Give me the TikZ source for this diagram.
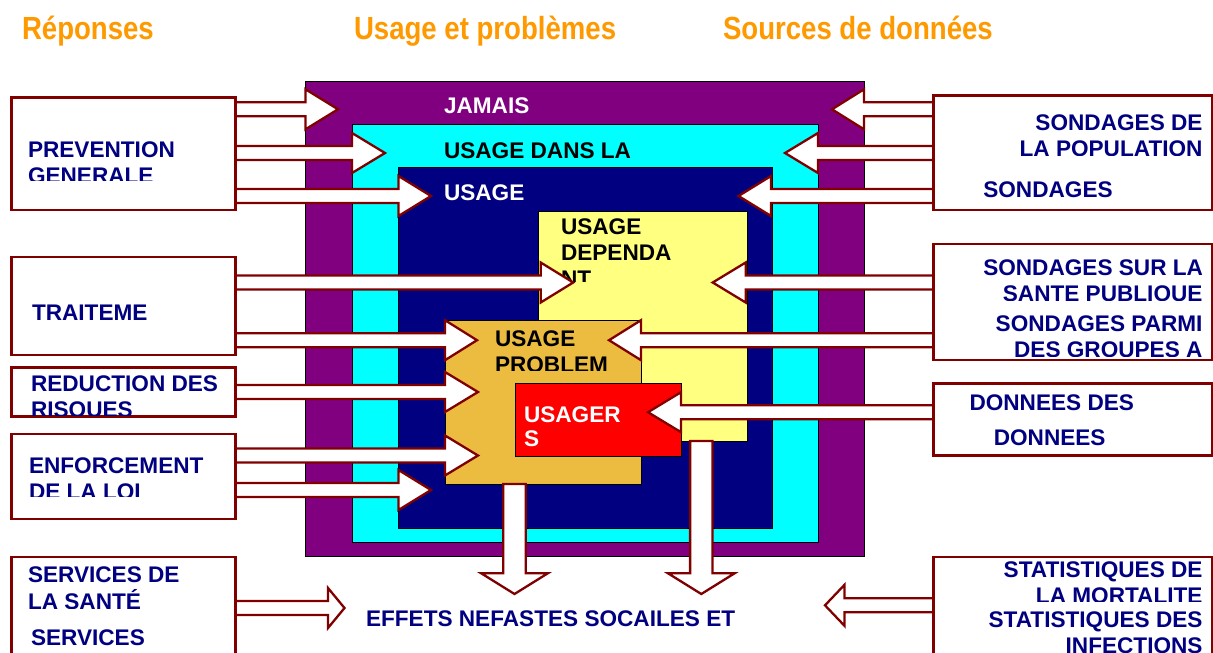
\documentclass[tikz,border=0pt]{standalone}
\usepackage{fontspec}
\setmainfont{Liberation Sans}
\newfontfamily\titlefont[FakeStretch=0.862]{Liberation Sans}
\usetikzlibrary{calc}
\definecolor{mred}{HTML}{800000}
\definecolor{mblue}{HTML}{000080}
\definecolor{mpurple}{HTML}{800080}
\definecolor{mcyan}{HTML}{00FFFF}
\definecolor{myellow}{HTML}{FFFF80}
\definecolor{morange}{HTML}{ECBC40}
\definecolor{mred2}{HTML}{FF0000}
\definecolor{mtitle}{HTML}{FF9900}
\tikzset{
  lab/.style={inner sep=0pt,outer sep=0pt,font=\fontsize{22.6}{26}\selectfont\bfseries},
  ttl/.style={inner sep=0pt,outer sep=0pt,text=mtitle,anchor=base west,font=\titlefont\fontsize{32}{36}\selectfont\bfseries},
  layer/.style={draw=black,line width=0.9pt,inner sep=0pt,outer sep=0pt,anchor=north west},
  refbox/.style={draw=mred,line width=2.3pt,fill=white,inner sep=0pt,outer sep=0pt,anchor=north west},
  block/.style={draw=mred,line width=2.3pt,fill=white,line join=miter}
}
% box: style, name, x1, y1, x2, y2
\newcommand\pbox[6]{%
  \pgfmathsetmacro\bw{#5-#3}\pgfmathsetmacro\bh{#6-#4}%
  \node[#1,minimum width=\bw pt,minimum height=\bh pt] (#2) at (#3,#4) {};}
% text: style, name, x, baseline, text
\newcommand\tl[5]{\node[lab,anchor=base west,#1] (#2) at (#3,#4) {#5};}
\newcommand\tr[5]{\node[lab,anchor=base east,#1] (#2) at (#3,#4) {#5};}
% clipped text: extra clip-bottom arg first
\newcommand\ctl[6]{\begin{scope}\clip (0,0) rectangle (1213,#1);\tl{#2}{#3}{#4}{#5}{#6}\end{scope}}
\newcommand\ctr[6]{\begin{scope}\clip (0,0) rectangle (1213,#1);\tr{#2}{#3}{#4}{#5}{#6}\end{scope}}
% right-pointing block arrow: from, yc, target, offset, headlen, headhalf
\newcommand\rarrow[6]{%
  \coordinate (bk) at ($(#3.west)+(#4,0)$);
  \path[block] (#1.east |- 0,#2-7) -- (bk |- 0,#2-7) -- (bk |- 0,#2-#6) -- ($(bk |- 0,#2)+(#5,0)$)
     -- (bk |- 0,#2+#6) -- (bk |- 0,#2+7) -- (#1.east |- 0,#2+7);}
\newcommand\larrow[6]{%
  \coordinate (bk) at ($(#3.east)+(#4,0)$);
  \path[block] (#1.west |- 0,#2-7) -- (bk |- 0,#2-7) -- (bk |- 0,#2-#6) -- ($(bk |- 0,#2)-(#5,0)$)
     -- (bk |- 0,#2+#6) -- (bk |- 0,#2+7) -- (#1.west |- 0,#2+7);}
% down arrow: top y, xc, head y, tip y
\newcommand\darrow[4]{%
  \path[block] (#2-11.2,#1) -- (#2-11.2,#3) -- (#2-33.3,#3) -- (#2,#4) -- (#2+33.3,#3) -- (#2+11.2,#3) -- (#2+11.2,#1) -- cycle;}
\begin{document}
\begin{tikzpicture}[x=1pt,y=-1pt]
\useasboundingbox (0,0) rectangle (1213,653);
\clip (0,0) rectangle (1213,653);
\fill[white] (0,0) rectangle (1213,653);
% titles
\node[ttl] (t1) at (22,39.3) {Réponses};
\node[ttl] (t2) at (354,39.3) {Usage et problèmes};
\node[ttl] (t3) at (723,39.3) {Sources de données};
% nested layers
\pbox{layer,fill=mpurple}{purple}{305}{81}{864}{556}
\pbox{layer,fill=mcyan}{cyan}{352}{124}{818}{542}
\pbox{layer,fill=mblue}{navy}{398}{167}{772}{528}
\pbox{layer,fill=myellow}{yellow}{538}{211}{747}{441}
\tl{text=white}{jamais}{444}{113}{JAMAIS}
\tl{text=black}{dansla}{444}{158}{USAGE DANS LA}
\tl{text=white}{usage}{444}{200.5}{USAGE}
\tl{text=black}{dep1}{561}{234.7}{USAGE}
\tl{text=black}{dep2}{561}{260.7}{DEPENDA}
\ctl{281.7}{text=black}{dep3}{561}{286.7}{NT}
\pbox{layer,fill=morange}{orange}{445}{320}{641}{484}
\tl{text=black}{pb1}{495}{346.7}{USAGE}
\ctl{370.7}{text=black}{pb2}{495}{372.7}{PROBLEM}
\pbox{layer,fill=mred2}{redbox}{515}{383}{681}{456}
\tl{text=white}{us1}{524}{422.2}{USAGER}
\tl{text=white}{us2}{524}{446.5}{S}
% invisible anchors for the response/source boxes, so the arrows can be drawn beneath them
\pbox{refbox,draw=none,fill=none}{L1}{11.5}{97.5}{235.5}{210}
\pbox{refbox,draw=none,fill=none}{L2}{11.5}{257}{235.5}{355}
\pbox{refbox,draw=none,fill=none}{L3}{11.5}{367.5}{235.5}{416.5}
\pbox{refbox,draw=none,fill=none}{L4}{11.5}{434}{235.5}{519}
\pbox{refbox,draw=none,fill=none}{L5}{11.5}{557}{235.5}{680}
\pbox{refbox,draw=none,fill=none}{R1}{933.5}{95.5}{1212}{210}
\pbox{refbox,draw=none,fill=none}{R2}{933.5}{244}{1212}{360}
\pbox{refbox,draw=none,fill=none}{R3}{933.5}{383.5}{1212}{455.5}
\pbox{refbox,draw=none,fill=none}{R4}{933.5}{557}{1212}{680}
% left arrows
\rarrow{L1}{109.3}{purple}{0.5}{32.5}{20}
\rarrow{L1}{153}{cyan}{0}{33}{20}
\rarrow{L1}{196}{navy}{0.5}{32.5}{20}
\rarrow{L2}{282.5}{yellow}{2.7}{32.5}{20}
\rarrow{L2}{340.2}{orange}{0}{32}{20}
\rarrow{L3}{392}{orange}{0}{33}{20}
\rarrow{L4}{455.5}{orange}{0}{33}{20}
\rarrow{L4}{490}{navy}{0.5}{32.5}{20}
\rarrow{L5}{608}{purple}{23}{16.5}{20}
% right arrows
\larrow{R1}{109.3}{purple}{0}{32}{20}
\larrow{R1}{153}{cyan}{0}{33}{20}
\larrow{R1}{196}{navy}{-1}{32.5}{20}
\larrow{R2}{282.5}{yellow}{-1.3}{33}{20}
\larrow{R2}{340.2}{orange}{0}{32}{20}
\larrow{R3}{412.2}{redbox}{0}{33}{20}
\larrow{R4}{605.3}{purple}{-19.5}{19.5}{20.5}
% down arrows
\darrow{484}{514.5}{573.3}{594}
\darrow{441}{701.3}{573.3}{594}
% visible boxes on top of arrow tails
\draw[refbox] (L1.north west) rectangle (L1.south east);
\draw[refbox] (L2.north west) rectangle (L2.south east);
\draw[refbox] (L3.north west) rectangle (L3.south east);
\draw[refbox] (L4.north west) rectangle (L4.south east);
\draw[refbox] (L5.north west) rectangle (L5.south east);
\draw[refbox] (R1.north west) rectangle (R1.south east);
\draw[refbox] (R2.north west) rectangle (R2.south east);
\draw[refbox] (R3.north west) rectangle (R3.south east);
\draw[refbox] (R4.north west) rectangle (R4.south east);
% left texts
\tl{text=mblue}{l1a}{28}{157.3}{PREVENTION}
\ctl{180}{text=mblue}{l1b}{28}{183.3}{GENERALE}
\tl{text=mblue}{l2a}{32}{320.7}{TRAITEME}
\tl{text=mblue}{l3a}{31}{391}{REDUCTION DES}
\ctl{415}{text=mblue}{l3b}{31}{417}{RISQUES}
\tl{text=mblue}{l4a}{29}{473}{ENFORCEMENT}
\ctl{496}{text=mblue}{l4b}{29}{499}{DE LA LOI}
\tl{text=mblue}{l5a}{28}{582.7}{SERVICES DE}
\ctl{608.3}{text=mblue}{l5b}{28}{609}{LA SANTÉ}
\tl{text=mblue}{l5c}{31}{645.7}{SERVICES}
% right texts
\tr{text=mblue}{r1a}{1202.5}{130}{SONDAGES DE}
\ctr{155}{text=mblue}{r1b}{1202.5}{156}{LA POPULATION}
\tl{text=mblue}{r1c}{983.3}{197.7}{SONDAGES}
\tr{text=mblue}{r2a}{1203}{275.7}{SONDAGES SUR LA}
\ctr{300}{text=mblue}{r2b}{1202.5}{301.7}{SANTE PUBLIQUE}
\tr{text=mblue}{r2c}{1202.5}{331.7}{SONDAGES PARMI}
\ctr{356}{text=mblue}{r2d}{1202.5}{357.7}{DES GROUPES A}
\tl{text=mblue}{r3a}{969.5}{410}{DONNEES DES}
\tl{text=mblue}{r3b}{993.8}{445}{DONNEES}
\tr{text=mblue}{r4a}{1202.5}{577.7}{STATISTIQUES DE}
\ctr{601.7}{text=mblue}{r4b}{1202.5}{603.7}{LA MORTALITE}
\tr{text=mblue}{r4c}{1202.5}{627.7}{STATISTIQUES DES}
\tr{text=mblue}{r4d}{1202.5}{653.7}{INFECTIONS}
\tl{text=mblue}{effets}{366}{626}{EFFETS NEFASTES SOCAILES ET}
\end{tikzpicture}
\end{document}
